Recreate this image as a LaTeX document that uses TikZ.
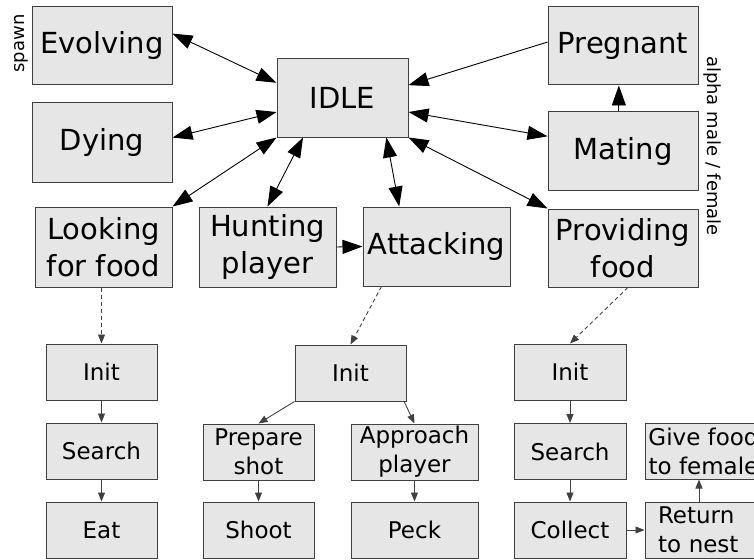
\documentclass[tikz,border=0pt]{standalone}
\usepackage{fontspec}
\setmainfont{DejaVu Sans}
\usetikzlibrary{arrows.meta}
\definecolor{boxfill}{HTML}{E6E6E6}
\definecolor{boxline}{HTML}{404040}

\begin{document}
\begin{tikzpicture}[x=1pt, y=-1pt,
    state/.style={draw=boxline, fill=boxfill, line width=1pt, inner sep=0pt,
        minimum width=140pt, minimum height=78pt, align=center,
        font=\fontsize{29}{37}\selectfont},
    substate/.style={draw=boxline, fill=boxfill, line width=1pt, inner sep=0pt,
        minimum width=111pt, minimum height=56pt, align=center,
        font=\fontsize{23}{29}\selectfont},
    side/.style={inner sep=0pt, font=\fontsize{18}{22}\selectfont},
    link/.style={line width=0.9pt, >={Triangle[length=20pt,width=14pt]}},
    sublink/.style={draw=boxline, line width=0.9pt, >={Triangle[length=9pt,width=7pt]}},
    dashlink/.style={sublink, dash pattern=on 4pt off 3pt}]

    \useasboundingbox (0,0) rectangle (754,559);
    \clip (0,0) rectangle (754,559);

    % top level states
    \node[state] (evolving) at (102,46) {Evolving};
    \node[state, minimum height=79pt] (dying) at (102,142.5) {Dying};
    \node[state, minimum width=131pt] (idle) at (342.5,98) {IDLE};
    \node[state, minimum width=150pt] (pregnant) at (623,46) {Pregnant};
    \node[state, minimum width=150pt] (mating) at (623,151) {Mating};
    \node[state, minimum width=150pt] (providing) at (623,248) {Providing\\food};
    \node[state, minimum width=137pt, minimum height=80pt] (looking) at (103.5,247) {Looking\\for food};
    \node[state, minimum width=137pt, minimum height=80pt] (hunting) at (267.5,247) {Hunting\\player};
    \node[state, minimum width=147pt, minimum height=79pt] (attacking) at (436.5,246.5) {Attacking};

    % side notes
    \node[side, rotate=90] (spawn) at (21,43.5) {spawn};
    \node[side, rotate=-90] (alpha) at (712,146) {alpha male / female};

    % sub states of looking for food
    \node[substate] (initL) at (101.5,372) {Init};
    \node[substate] (searchL) at (101.5,451) {Search};
    \node[substate] (eat) at (101.5,530) {Eat};

    % sub states of attacking
    \node[substate] (initA) at (350.5,373) {Init};
    \node[substate] (prepare) at (258.5,452) {Prepare\\shot};
    \node[substate] (shoot) at (258.5,530) {Shoot};
    \node[substate, minimum width=127pt] (approach) at (414.5,452) {Approach\\player};
    \node[substate, minimum width=127pt] (peck) at (414.5,530) {Peck};

    % sub states of providing food
    \node[substate, minimum width=112pt] (initP) at (570,372) {Init};
    \node[substate, minimum width=112pt] (searchP) at (570,451.5) {Search};
    \node[substate, minimum width=112pt] (collect) at (570,530) {Collect};
    \node[substate, minimum width=117pt] (givefood) at (703.5,451) {Give food\\to female};
    \node[substate, minimum width=117pt, text width=91pt, align=left] (returnnest) at (703.5,530) {Return\\to nest};

    % transitions between top level states
    \draw[link, <->] (evolving.10) -- (idle.167);
    \draw[link, <->] (dying.4) -- (idle.192);
    \draw[link, <->] (looking.north east) -- (idle.south west);
    \draw[link, <->] (hunting.north) -- (idle.225);
    \draw[link, <->] (attacking.133) -- (idle.-42);
    \draw[link, <->] (idle.-12) -- (mating.169);
    \draw[link, <->] (idle.south east) -- (providing.north west);
    \draw[link, ->] (pregnant.177) -- (idle.11);
    \draw[link, ->] (mating.96) -- (pregnant.264);
    \draw[link, ->] (hunting.east) -- (attacking.west);

    % entering the sub machines
    \draw[dashlink, ->] (initL.north |- looking.south) -- (initL.north);
    \draw[dashlink, ->] (attacking.216) -- (initA.north);
    \draw[dashlink, ->] (providing.-83) -- (initP.north);

    % sub machine transitions
    \draw[sublink, ->] (initL) -- (searchL);
    \draw[sublink, ->] (searchL) -- (eat);
    \draw[sublink, ->] (initA.south west) -- (prepare.north);
    \draw[sublink, ->] (initA.-28) -- (approach.north);
    \draw[sublink, ->] (prepare) -- (shoot);
    \draw[sublink, ->] (approach) -- (peck);
    \draw[sublink, ->] (initP) -- (searchP);
    \draw[sublink, ->] (searchP) -- (collect);
    \draw[sublink, ->] (collect) -- (returnnest);
    \draw[sublink, ->] (returnnest.99) -- (givefood.261);
\end{tikzpicture}
\end{document}
